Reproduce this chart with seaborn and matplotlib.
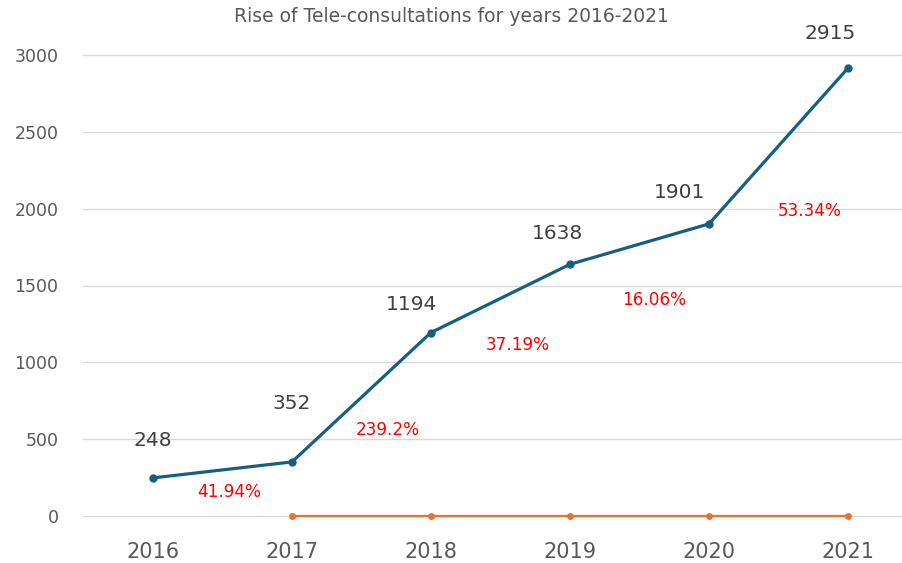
import matplotlib
matplotlib.use("Agg")
import matplotlib.pyplot as plt
import seaborn as sns
import pandas as pd
import numpy as np

years = ["2016", "2017", "2018", "2019", "2020", "2021"]
consultations = [248, 352, 1194, 1638, 1901, 2915]
second_series = [np.nan, 0, 0, 0, 0, 0]
growth_labels = ["41.94%", "239.2%", "37.19%", "16.06%", "53.34%"]
title = "Rise of Tele-consultations for years 2016-2021"

# label offsets in pixels (style only)
value_offsets = [(0, 37), (0, 58), (-20, 28), (-13, 31), (-29, 31), (-18, 35)]
growth_offsets = [(-63, -30), (-43, -97), (-52, -81), (-55, -76), (-38, -143)]

sns.set_theme(style="white")
plt.rcParams["font.family"] = ["DejaVu Sans"]

BLUE = "#156082"
ORANGE = "#E97132"
GRAY = "#595959"

fig = plt.figure(figsize=(9.03, 5.63), dpi=100)
ax = fig.add_axes([83.5 / 903, 1 - 516 / 563, (917.5 - 83.5) / 903, (516 - 55) / 563])

df = pd.DataFrame({"year": years, "value": consultations, "zero": second_series})
xpos = np.arange(len(years))
df["x"] = xpos

sns.lineplot(data=df, x="x", y="zero", ax=ax, color=ORANGE, lw=1.6,
             marker="o", markersize=5, markeredgewidth=0, zorder=3)
sns.lineplot(data=df, x="x", y="value", ax=ax, color=BLUE, lw=2.3,
             marker="o", markersize=6, markeredgewidth=0, zorder=4)
for ln in ax.lines:
    ln.set_clip_on(False)

ax.set_xlim(-0.5, len(years) - 0.5)
ax.set_ylim(0, 3000)
ax.set_yticks(range(0, 3001, 500))
ax.set_xticks(xpos)
ax.set_xticklabels(years)
ax.set_xlabel("")
ax.set_ylabel("")
ax.set_axisbelow(True)
ax.grid(axis="y", color="#d9d9d9", lw=1)
ax.grid(axis="x", visible=False)
for gl in ax.yaxis.get_gridlines():
    gl.set_clip_on(False)
for s in ax.spines.values():
    s.set_visible(False)
ax.tick_params(axis="y", labelsize=12.5, colors=GRAY, length=0, pad=18)
ax.tick_params(axis="x", labelsize=15, colors=GRAY, length=0, pad=19)

for i, (v, off) in enumerate(zip(consultations, value_offsets)):
    ax.annotate(str(v), (xpos[i], v), xytext=off, textcoords="offset pixels",
                ha="center", va="center", fontsize=14.5, color="#404040")

for i, (lab, off) in enumerate(zip(growth_labels, growth_offsets)):
    ax.annotate(lab, (xpos[i + 1], consultations[i + 1]), xytext=off,
                textcoords="offset pixels", ha="center", va="center",
                fontsize=12.2, color="red")

fig.text(0.5, 1 - 17 / 563, title, ha="center", va="center", fontsize=13.5,
         color=GRAY)

fig.savefig("out.png", dpi=100)
